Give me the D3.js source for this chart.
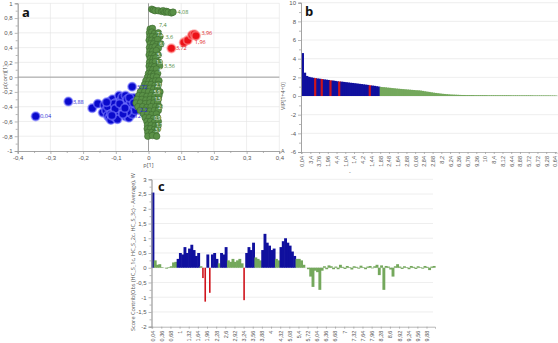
<!DOCTYPE html>
<html>
<head>
<meta charset="utf-8">
<script src="https://cdn.jsdelivr.net/npm/d3@7"></script>
<style>
body { margin: 0; background: #fff; }
svg { display: block; font-family: "Open Sans", sans-serif; }
.tick text { fill: #555; font-size: 6px; }
.domain, .tick line { stroke: #9a9a9a; stroke-width: 0.7; }
.grid line { stroke: #e3e3e3; stroke-width: 0.6; }
.title { fill: #555; font-size: 5.6px; }
.letter { font-weight: bold; font-size: 13px; fill: #111; }
</style>
</head>
<body>
<svg id="chart" width="558" height="343"></svg>
<script>
// ---------- data: panel a (S-plot, p[1] vs p(corr)[1]) ----------
var bluePoints = [
  [-0.345,-0.53],[-0.245,-0.33],[-0.172,-0.42],[-0.155,-0.36],[-0.14,-0.48],[-0.135,-0.38],
  [-0.13,-0.45],[-0.125,-0.52],[-0.12,-0.55],[-0.118,-0.33],[-0.115,-0.58],[-0.11,-0.3],
  [-0.11,-0.4],[-0.105,-0.48],[-0.1,-0.35],[-0.1,-0.55],[-0.095,-0.42],[-0.09,-0.5],
  [-0.09,-0.25],[-0.085,-0.32],[-0.08,-0.27],[-0.08,-0.45],[-0.075,-0.38],[-0.07,-0.53],
  [-0.07,-0.25],[-0.065,-0.3],[-0.06,-0.42],[-0.06,-0.55],[-0.055,-0.35],[-0.05,-0.5],
  [-0.05,-0.13],[-0.045,-0.28],[-0.04,-0.45],[-0.035,-0.38],[-0.125,-0.4],[-0.105,-0.36],
  [-0.085,-0.4],[-0.095,-0.57],[-0.065,-0.47],[-0.115,-0.5],[-0.128,-0.34],[-0.102,-0.43],
  [-0.078,-0.5],[-0.058,-0.28],[-0.045,-0.35],[-0.088,-0.36],[-0.112,-0.52],[-0.072,-0.42]
]
var redPoints = [[0.07,0.39],[0.108,0.47],[0.12,0.5],[0.133,0.57],[0.14,0.58],[0.145,0.56]]
var greenPoints = [
  [0.01,0.92],[0.015,0.91],[0.02,0.9],[0.03,0.9],[0.04,0.89],[0.045,0.9],[0.05,0.88],
  [0.055,0.89],[0.06,0.88],[0.07,0.87],[0.075,0.88],
  [0.005,0.65],[0.012,0.66],
  [0.003,0.6],[0.01,0.61],[0.018,0.59],[0.03,0.6],
  [0.004,0.55],[0.012,0.55],[0.022,0.54],[0.035,0.55],
  [0.002,0.5],[0.01,0.5],[0.02,0.49],[0.028,0.51],
  [0.005,0.45],[0.015,0.45],[0.025,0.44],[0.038,0.45],
  [0.003,0.4],[0.011,0.4],[0.02,0.41],[0.03,0.39],
  [0.004,0.35],[0.013,0.35],[0.024,0.36],
  [0.002,0.3],[0.01,0.3],[0.019,0.29],[0.03,0.3],
  [0.005,0.25],[0.014,0.25],[0.022,0.26],
  [0.003,0.2],[0.012,0.2],[0.021,0.21],[0.033,0.2],
  [0.002,0.15],[0.01,0.15],[0.018,0.14],[0.034,0.15],
  [0.004,0.1],[0.013,0.1],[0.024,0.11],
  [0.0,0.05],[0.008,0.05],[0.017,0.04],[0.028,0.05],
  [-0.003,0.0],[0.006,0.0],[0.015,0.01],[0.025,0.0],
  [-0.008,-0.05],[0.002,-0.05],[0.012,-0.06],[0.022,-0.05],[0.032,-0.05],
  [-0.012,-0.1],[-0.002,-0.1],[0.008,-0.1],[0.02,-0.11],[0.03,-0.1],
  [-0.018,-0.15],[-0.006,-0.15],[0.005,-0.15],[0.016,-0.16],[0.028,-0.15],
  [-0.025,-0.2],[-0.012,-0.2],[0.0,-0.2],[0.012,-0.21],[0.025,-0.2],[0.035,-0.2],
  [-0.03,-0.25],[-0.018,-0.25],[-0.005,-0.26],[0.008,-0.25],[0.02,-0.25],[0.032,-0.25],
  [-0.035,-0.3],[-0.02,-0.3],[-0.008,-0.31],[0.005,-0.3],[0.018,-0.3],[0.03,-0.3],
  [-0.038,-0.35],[-0.025,-0.35],[-0.01,-0.36],[0.004,-0.35],[0.016,-0.35],[0.028,-0.35],
  [-0.032,-0.4],[-0.018,-0.4],[-0.005,-0.41],[0.008,-0.4],[0.022,-0.4],[0.033,-0.4],
  [-0.025,-0.45],[-0.01,-0.45],[0.004,-0.46],[0.018,-0.45],[0.03,-0.45],
  [-0.015,-0.5],[-0.003,-0.5],[0.01,-0.51],[0.024,-0.5],
  [-0.01,-0.55],[0.002,-0.55],[0.015,-0.56],[0.028,-0.55],
  [-0.005,-0.6],[0.006,-0.6],[0.018,-0.61],[0.03,-0.6],
  [-0.003,-0.65],[0.008,-0.65],[0.02,-0.66],[0.03,-0.65],
  [-0.004,-0.7],[0.006,-0.7],[0.018,-0.71],[0.028,-0.7],
  [-0.002,-0.75],[0.01,-0.75],[0.02,-0.76],
  [-0.002,-0.8],[0.012,-0.79],[0.025,-0.8]
]
var blueLabels = [[-0.345,-0.53,"0,04"],[-0.245,-0.33,"3,88"],[-0.05,-0.13,"3,72"],[-0.07,-0.53,"4,12"],[-0.04,-0.45,"2,2"]]
var redLabels = [[0.07,0.39,"3,72"],[0.148,0.6,"3,96"],[0.128,0.47,"1,96"]]
var greenLabels = [[0.075,0.88,"4,08"],[0.018,0.7,"7,4"],[0.038,0.55,"3,6"],[0.034,0.15,"3,56"]]
var whiteLabels = [[0.012,0.58,"7,2"],[0.02,0.45,"6,9"],[0.013,0.3,"5,3"],[0.01,0.2,"1,3"],[0.008,-0.1,"2,1"],
  [0.005,-0.3,"1,5"],[0.016,-0.4,"2,6"],[0.004,-0.55,"0,9"],[0.01,-0.65,"1,7"],[0.006,-0.72,"3,1"],
  [0.018,0.1,"6,0"],[0.002,-0.2,"5,9"]]

// ---------- data: panel b (VIP, sorted) ----------
var vipValues = [
  4.6,2.5,2.15,2.05,2.0,1.95,1.92,1.88,1.85,1.82,1.78,1.75,1.72,1.68,1.66,1.62,1.58,1.56,1.54,1.51,
  1.48,1.45,1.42,1.40,1.37,1.34,1.31,1.28,1.25,1.22,1.19,1.15,1.12,1.09,1.05,1.01,0.97,0.95,0.93,0.90,
  0.88,0.85,0.83,0.80,0.78,0.76,0.74,0.72,0.70,0.68,0.66,0.64,0.62,0.61,0.59,0.55,0.51,0.47,0.44,0.40,
  0.36,0.33,0.30,0.27,0.24,0.22,0.20,0.18,0.16,0.15,0.14,0.13,0.12,0.11,0.11,0.10,0.10,0.10,0.10,0.09,
  0.09,0.09,0.09,0.09,0.09,0.08,0.08,0.08,0.08,0.08,0.08,0.08,0.08,0.08,0.08,0.08,0.07,0.07,0.07,0.07,
  0.07,0.07,0.07,0.07,0.07,0.07,0.06,0.06,0.06,0.06,0.06,0.06,0.06,0.06,0.05,0.05,0.05
]
var vipGroups = ("bbbbbbrbbrbbbrbbbr" + "bbbbbbbbbbbbb" + "r" + "bbbb" +
  "gggggggggg" + "gggggggggg" + "gggggggggg" + "gggggggggg" +
  "gggggggggg" + "gggggggggg" + "gggggggggg" + "gggggggggg" + "g").split("")
var vipTicks = ["0,04","3,4","3,76","1,96","4,4","1,04","1,4","4,2","1,44","1,88","2,48","1,64","2,88","0,08","2,84",
  "2,88","8,2","6,24","6,36","6,76","9,36","10","8,4","8,12","6,44","8,88","5,72","6,72","9,28","0,64"]

// ---------- data: panel c (score contribution) ----------
var contribValues = [
  2.55,0.25,0.1,0.12,0.02,0.0,-0.03,0.02,0.05,0.18,
  0.2,0.3,0.5,0.45,0.7,0.5,0.65,0.78,0.6,0.4,
  0.5,0.05,-0.35,-1.15,0.45,-0.85,0.45,0.5,0.3,0.15,
  0.5,0.45,0.7,0.25,0.2,0.3,0.2,0.25,0.3,0.15,
  -1.1,0.5,0.7,0.6,0.85,0.35,0.3,0.25,0.6,1.15,
  0.85,0.75,0.6,0.65,0.3,0.25,0.7,0.9,1.0,0.85,
  0.75,0.55,0.4,0.3,0.3,0.25,0.1,0.0,-0.05,-0.3,
  -0.65,-0.1,-0.15,-0.75,-0.1,0.05,-0.05,0.08,0.05,-0.05,
  0.04,-0.05,0.1,0.03,-0.04,0.06,0.02,-0.06,0.05,0.03,
  -0.03,0.07,0.02,-0.05,0.04,0.06,-0.02,0.05,0.1,-0.25,
  0.08,-0.75,0.06,0.04,-0.06,-0.3,0.05,0.12,0.04,-0.04,
  0.05,0.02,-0.05,0.06,0.03,-0.04,0.05,0.02,-0.03,0.06,
  0.03,-0.08,0.04,0.06
]
var contribGroups = ("b" + "gggggggggg" + "bbbbbbbbbb" + "g" + "rr" + "b" + "r" + "bbb" + "g" + "bbb" +
  "ggggggg" + "r" + "bbbb" + "ggg" + "bbbbbb" + "gg" + "bbbbbbb" +
  "gggggggggg" + "gggggggggg" + "gggggggggg" + "gggggggggg" + "gggggggggg" + "gggggggggg" + "g").split("")
var contribTicks = ["0,04","0,36","0,68","1","1,32","1,64","1,96","2,28","2,6","2,92","3,24","3,56","3,88","4",
  "4,32","5,08","5,4","5,72","6,04","6,36","6,68","7","7,32","7,64","7,96","8,28","8,6","8,92","9,24","9,56","9,88"]

var barColor = { b: "#10109e", g: "#74a85c", r: "#d0141c" }

var locale = d3.formatLocale({ decimal: ",", thousands: ".", grouping: [3], currency: ["", ""], minus: "-" })
var fmt = locale.format("")

var svg = d3.select("#chart")

// ================= panel a =================
var xA = d3.scaleLinear().domain([-0.4, 0.4]).range([17.7, 279.3])
var yA = d3.scaleLinear().domain([-1, 1]).range([151, 3.3])
var gA = svg.append("g")

gA.append("g").attr("class", "grid")
  .selectAll("line").data(d3.range(-3, 5).map(d => d / 10)).join("line")
  .attr("x1", d => xA(d)).attr("x2", d => xA(d)).attr("y1", yA(1)).attr("y2", yA(-1))
gA.append("g").attr("class", "grid")
  .selectAll("line").data(d3.range(-4, 6).map(d => d / 5)).join("line")
  .attr("x1", xA(-0.4)).attr("x2", xA(0.4)).attr("y1", d => yA(d)).attr("y2", d => yA(d))
// zero lines
gA.append("line").attr("x1", xA(-0.4)).attr("x2", xA(0.4)).attr("y1", yA(0)).attr("y2", yA(0))
  .attr("stroke", "#8a8a8a").attr("stroke-width", 0.8)
gA.append("line").attr("x1", xA(0)).attr("x2", xA(0)).attr("y1", yA(1)).attr("y2", yA(-1))
  .attr("stroke", "#8a8a8a").attr("stroke-width", 0.8)

gA.append("g").attr("transform", "translate(0," + yA(-1) + ")")
  .call(d3.axisBottom(xA).tickValues(d3.range(-4, 5).map(d => d / 10)).tickFormat(fmt).tickSize(3).tickPadding(2))
gA.append("g").attr("transform", "translate(0," + yA(-1) + ")")
  .call(d3.axisBottom(xA).tickValues(d3.range(-7, 8, 2).map(d => d / 20)).tickFormat("").tickSize(2))
gA.append("g").attr("transform", "translate(" + xA(-0.4) + ",0)")
  .call(d3.axisLeft(yA).tickValues(d3.range(-5, 6).map(d => d / 5)).tickFormat(fmt).tickSize(3).tickPadding(2))
gA.append("g").attr("transform", "translate(" + xA(-0.4) + ",0)")
  .call(d3.axisLeft(yA).tickValues(d3.range(-9, 10, 2).map(d => d / 10)).tickFormat("").tickSize(2))

gA.append("g").selectAll("circle").data(bluePoints).join("circle")
  .attr("cx", d => xA(d[0])).attr("cy", d => yA(d[1])).attr("r", 4.2)
  .attr("fill", "#0a0acc").attr("stroke", "rgba(120,120,255,0.6)").attr("stroke-width", 1.8)
gA.append("g").selectAll("circle").data(greenPoints).join("circle")
  .attr("cx", d => xA(d[0])).attr("cy", d => yA(d[1])).attr("r", 3.3)
  .attr("fill", "#5a9147").attr("stroke", "#3c6a2f").attr("stroke-width", 0.6)
gA.append("g").selectAll("circle").data(redPoints).join("circle")
  .attr("cx", d => xA(d[0])).attr("cy", d => yA(d[1])).attr("r", 4.2)
  .attr("fill", "#ec1218").attr("stroke", "rgba(255,140,140,0.6)").attr("stroke-width", 1.8)

function pointText(data, color, size) {
  gA.append("g").selectAll("text").data(data).join("text")
    .attr("x", d => xA(d[0]) + 4.5).attr("y", d => yA(d[1]) + 2)
    .attr("fill", color).style("font-size", size + "px").text(d => d[2])
}
pointText(whiteLabels, "#f4f4f4", 4.5)
pointText(blueLabels, "#2a2ad6", 5.5)
pointText(redLabels, "#e01a1a", 5.5)
pointText(greenLabels, "#4d8a3c", 5.5)

gA.append("text").attr("class", "title").attr("x", xA(0)).attr("y", 167).attr("text-anchor", "middle").text("p[1]")
gA.append("text").attr("class", "title").attr("transform", "translate(7," + yA(0) + ") rotate(-90)")
  .attr("text-anchor", "middle").text("p(corr)[1]")
gA.append("text").attr("class", "letter").attr("x", 22).attr("y", 17).text("a")

// ================= panel b =================
var xB = d3.scaleBand().domain(d3.range(vipValues.length)).range([301, 556.5])
var yB = d3.scaleLinear().domain([-6, 10]).range([152, 2.7])
var gB = svg.append("g")

gB.append("g").attr("class", "grid")
  .selectAll("line").data(d3.range(-4, 11, 2)).join("line")
  .attr("x1", xB.range()[0]).attr("x2", 558).attr("y1", d => yB(d)).attr("y2", d => yB(d))

gB.append("g").selectAll("rect").data(vipValues).join("rect")
  .attr("x", (d, i) => xB(i))
  .attr("width", xB.bandwidth() + 0.8)
  .attr("y", d => yB(d)).attr("height", d => yB(0) - yB(d))
  .attr("fill", (d, i) => barColor[vipGroups[i]])

gB.append("g").attr("transform", "translate(" + xB.range()[0] + ",0)")
  .call(d3.axisLeft(yB).tickValues(d3.range(-6, 11, 2)).tickFormat(fmt).tickSize(3).tickPadding(2))
gB.append("g").attr("transform", "translate(" + xB.range()[0] + ",0)")
  .call(d3.axisLeft(yB).tickValues(d3.range(-5, 10, 2)).tickFormat("").tickSize(2))
gB.append("g").attr("transform", "translate(0," + yB(-6) + ")")
  .call(d3.axisBottom(xB).tickValues(d3.range(0, vipValues.length, 4)).tickFormat(i => vipTicks[i / 4]).tickSize(2))
  .selectAll("text").attr("transform", "rotate(-90)").attr("x", -4).attr("y", 0).attr("dy", "0.35em")
  .style("text-anchor", "end").style("font-size", "5.5px")

gB.append("text").attr("class", "title").attr("transform", "translate(285," + yB(0) + ") rotate(-90)")
  .attr("text-anchor", "middle").text("VIP[1+4+0]")
gB.append("text").attr("class", "title").attr("x", 281).attr("y", 153).text("A")
gB.append("text").attr("class", "title").attr("x", 349).attr("y", 174).text("-")
gB.append("text").attr("class", "letter").attr("x", 305).attr("y", 16).text("b")

// ================= panel c =================
var xC = d3.scaleBand().domain(d3.range(contribValues.length)).range([151.5, 435])
var yC = d3.scaleLinear().domain([-2, 3]).range([326.7, 179.3])
var gC = svg.append("g")

gC.append("g").attr("class", "grid")
  .selectAll("line").data(d3.range(-3, 7).map(d => d / 2)).join("line")
  .attr("x1", xC.range()[0]).attr("x2", 433).attr("y1", d => yC(d)).attr("y2", d => yC(d))

gC.append("g").selectAll("rect").data(contribValues).join("rect")
  .attr("x", (d, i) => contribGroups[i] == "r" ? xC(i) + xC.bandwidth() * 0.15 : xC(i))
  .attr("width", (d, i) => contribGroups[i] == "r" ? xC.bandwidth() * 0.7 : xC.bandwidth() + 0.6)
  .attr("y", d => yC(Math.max(0, d))).attr("height", d => Math.abs(yC(d) - yC(0)))
  .attr("fill", (d, i) => barColor[contribGroups[i]])

gC.append("g").attr("transform", "translate(" + xC.range()[0] + ",0)")
  .call(d3.axisLeft(yC).tickValues(d3.range(-4, 7).map(d => d / 2)).tickFormat(fmt).tickSize(3).tickPadding(2))
gC.append("g").attr("transform", "translate(" + xC.range()[0] + ",0)")
  .call(d3.axisLeft(yC).tickValues(d3.range(-7, 12, 2).map(d => d / 4)).tickFormat("").tickSize(2))
gC.append("g").attr("transform", "translate(0," + yC(-2) + ")")
  .call(d3.axisBottom(xC).tickValues(d3.range(0, contribValues.length, 4)).tickFormat(i => contribTicks[i / 4]).tickSize(2))
  .selectAll("text").attr("transform", "rotate(-90)").attr("x", -4).attr("y", 0).attr("dy", "0.35em")
  .style("text-anchor", "end").style("font-size", "5.5px")

gC.append("text").attr("class", "title").attr("transform", "translate(135,252) rotate(-90)")
  .attr("text-anchor", "middle").text("Score Contrib(Obs (HC_S_1c, HC_S_2c, HC_S_3c) - Average), W")
gC.append("text").attr("class", "letter").attr("x", 158).attr("y", 191).text("c")
</script>
</body>
</html>
